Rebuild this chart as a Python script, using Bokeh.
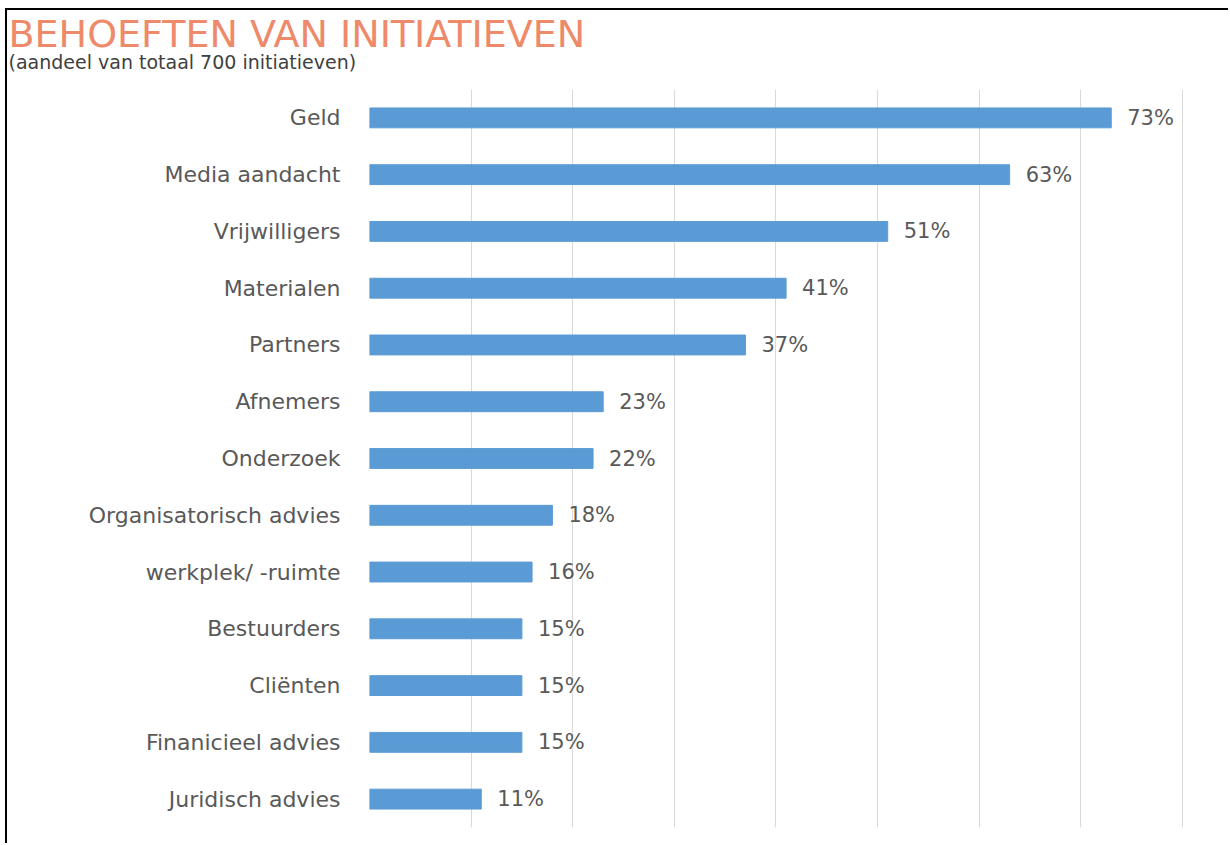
from bokeh.plotting import figure
from bokeh.models import FactorRange, Range1d, Title, ColumnDataSource
from bokeh.core.properties import value
from bokeh.embed import file_html
from bokeh.resources import INLINE

categories = ["Geld", "Media aandacht", "Vrijwilligers", "Materialen", "Partners",
              "Afnemers", "Onderzoek", "Organisatorisch advies", "werkplek/ -ruimte",
              "Bestuurders", "Cliënten", "Finanicieel advies", "Juridisch advies"]
percentages = [73, 63, 51, 41, 37, 23, 22, 18, 16, 15, 15, 15, 11]
value_labels = [f"{v}%" for v in percentages]
title_text = "BEHOEFTEN VAN INITIATIEVEN"
subtitle_text = "(aandeel van totaal 700 initiatieven)"

FONT = "DejaVu Sans"
BLUE = "#5B9BD5"
TEXT = "#595959"

src = ColumnDataSource(dict(cat=categories, val=percentages, lab=value_labels))

p = figure(
    width=1223, height=835,
    y_range=FactorRange(factors=list(reversed(categories)), range_padding=0),
    x_range=Range1d(0, 80.8),
    output_backend="svg", toolbar_location=None,
    min_border_left=362, min_border_right=40, min_border_bottom=18, min_border_top=79,
)
p.styles = {"border-left": "2px solid #000", "border-top": "2px solid #000",
            "margin-left": "5px", "margin-top": "8px"}

p.hbar(y="cat", right="val", left=0, height=0.35, source=src, color=BLUE)
p.text(x="val", y="cat", text="lab", source=src, x_offset=16,
       text_baseline="middle", text_align="left", text_color=TEXT,
       text_font=value(FONT), text_font_size="21px")

p.xaxis.visible = False
p.xgrid.grid_line_color = "#D9D9D9"
p.ygrid.grid_line_color = None
p.xaxis.ticker = list(range(0, 81, 10))
p.xgrid.ticker = list(range(0, 81, 10))
p.yaxis.axis_line_color = None
p.yaxis.major_tick_line_color = None
p.yaxis.minor_tick_line_color = None
p.yaxis.major_label_standoff = 23
p.yaxis.major_label_text_font = FONT
p.yaxis.major_label_text_font_size = "22px"
p.yaxis.major_label_text_color = TEXT
p.outline_line_color = None

sub = Title(text=subtitle_text, align="left", vertical_align="top",
            offset=-361, text_font=FONT, text_font_size="19px",
            text_font_style="normal", text_color="#404040", standoff=30)
p.add_layout(sub, "above")
p.title.text = title_text
p.title.align = "left"
p.title.vertical_align = "top"
p.title.offset = -361
p.title.text_font = FONT
p.title.text_font_size = "38px"
p.title.text_font_style = "normal"
p.title.text_color = "#EE8A6A"
p.title.standoff = -44

open("out.html", "w").write(file_html(p, INLINE))
